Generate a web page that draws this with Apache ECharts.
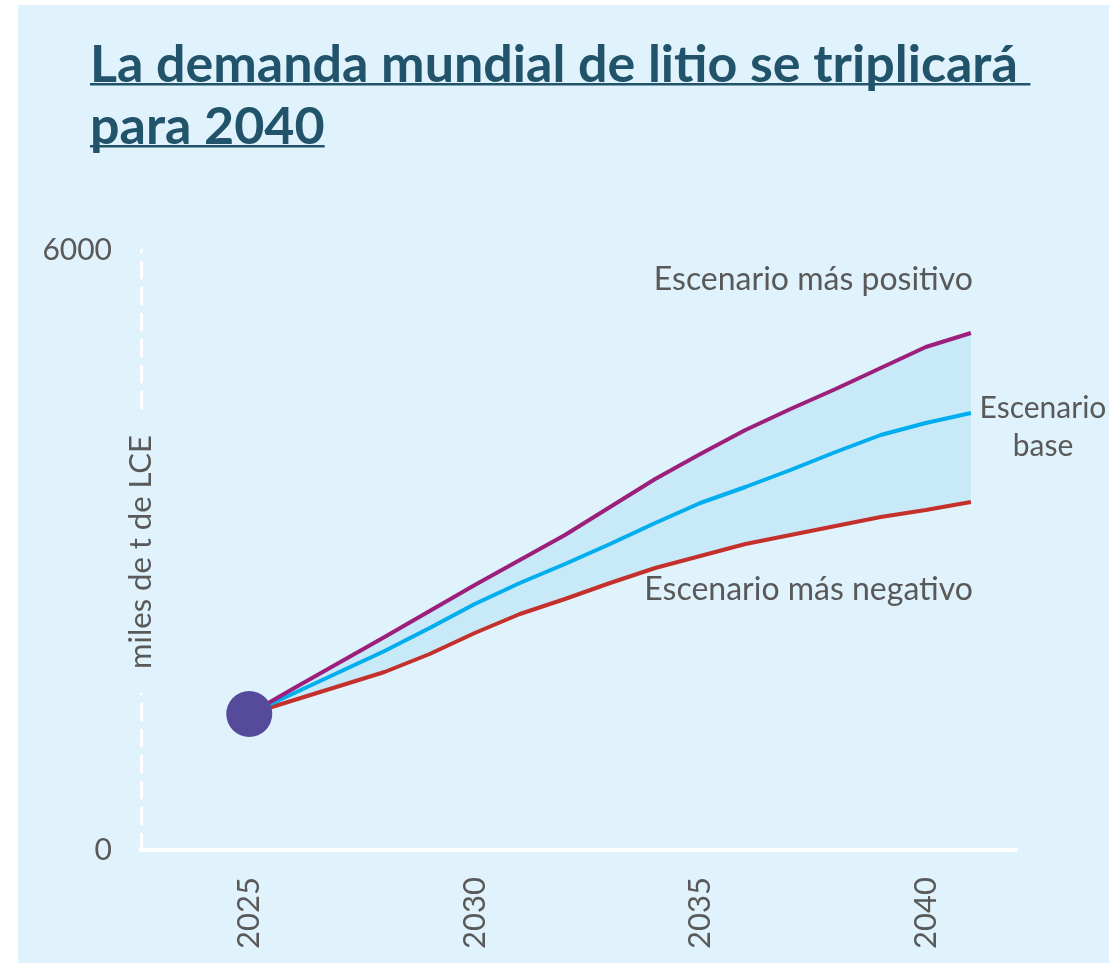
<!DOCTYPE html>
<html>
<head>
<meta charset="utf-8">
<script src="https://cdn.jsdelivr.net/npm/echarts@6/dist/echarts.min.js"></script>
<style>
  html, body { margin: 0; padding: 0; background: #ffffff; }
  #chart { width: 1109px; height: 963px; }
</style>
</head>
<body>
<div id="chart"></div>
<script>
// datos (miles de t de LCE)
const years = [2025, 2026, 2027, 2028, 2029, 2030, 2031, 2032, 2033, 2034, 2035, 2036, 2037, 2038, 2039, 2040, 2041];
const positivo = [1360, 1620, 1875, 2130, 2390, 2650, 2900, 3150, 3430, 3710, 3960, 4200, 4410, 4610, 4820, 5030, 5170];
const base = [1360, 1570, 1780, 1990, 2220, 2460, 2670, 2860, 3060, 3270, 3470, 3630, 3800, 3980, 4150, 4270, 4370];
const negativo = [1360, 1500, 1640, 1780, 1960, 2170, 2360, 2510, 2670, 2820, 2940, 3060, 3150, 3240, 3330, 3400, 3480];
const startPoint = [2025, 1360];
const yearTicks = [2025, 2030, 2035, 2040];

const titleLines = ['La demanda mundial de litio se triplicará ', 'para 2040'];
const yName = 'miles de t de LCE';
const titleColor = '#21536a';
const textGrey = '#595959';
const bg = '#e0f2fc';
const fontFam = 'Lato, "DejaVu Sans", sans-serif';

function textWidth(txt, font) {
  const ctx = document.createElement('canvas').getContext('2d');
  ctx.font = font;
  return ctx.measureText(txt).width;
}

const chart = echarts.init(document.getElementById('chart'), null, { renderer: 'canvas' });

const pairs = arr => arr.map((v, i) => [years[i], v]);

const titleSize = 52;
const titleGraphics = [];
titleLines.forEach((t, i) => {
  const baseY = 81 + i * 62;
  titleGraphics.push({
    type: 'text', z: 10,
    style: { x: 90, y: baseY - 42, text: t, fontSize: titleSize, fontWeight: 'bold', fontFamily: fontFam, fill: titleColor, verticalAlign: 'top' }
  });
  titleGraphics.push({
    type: 'rect', z: 10,
    shape: { x: 90, y: baseY + 2, width: textWidth(t, 'bold ' + titleSize + 'px Lato'), height: 2.5 },
    style: { fill: titleColor }
  });
});

// banda entre escenario negativo y positivo
function renderBand(params, api) {
  const upper = positivo.map((v, i) => api.coord([years[i], v]));
  const lower = negativo.map((v, i) => api.coord([years[i], v])).reverse();
  return {
    type: 'polygon',
    shape: { points: upper.concat(lower) },
    style: { fill: '#c8e9f8' },
    silent: true
  };
}

var option = {
  animation: false,
  graphic: [
    { type: 'rect', z: -10, shape: { x: 18, y: 5, width: 1091, height: 958 }, style: { fill: bg } }
  ].concat(titleGraphics).concat([
    { type: 'text', z: 10, x: 141, y: 552, rotation: Math.PI / 2,
      style: { x: 0, y: 0, text: yName, fill: textGrey, fontSize: 31, fontFamily: fontFam, align: 'center', verticalAlign: 'middle', backgroundColor: bg, padding: [0, 24] } },
    { type: 'text', z: 10, style: { x: 973, y: 280, text: 'Escenario más positivo', fill: textGrey, fontSize: 32, fontFamily: fontFam, align: 'right', verticalAlign: 'middle' } },
    { type: 'text', z: 10, style: { x: 1043, y: 427, text: 'Escenario\nbase', fill: textGrey, fontSize: 30, fontFamily: fontFam, lineHeight: 38, align: 'center', verticalAlign: 'middle' } },
    { type: 'text', z: 10, style: { x: 973, y: 590, text: 'Escenario más negativo', fill: textGrey, fontSize: 32, fontFamily: fontFam, align: 'right', verticalAlign: 'middle' } }
  ]),
  grid: { left: 141, right: 93, top: 250, bottom: 113 },
  xAxis: {
    type: 'value',
    min: 2022.6,
    max: 2042,
    splitLine: { show: false },
    axisTick: { show: false },
    axisLine: { show: true, lineStyle: { color: '#ffffff', width: 4 } },
    axisLabel: {
      customValues: yearTicks,
      rotate: 90,
      margin: 27,
      fontSize: 31,
      fontFamily: fontFam,
      color: textGrey,
      formatter: v => String(v)
    }
  },
  yAxis: {
    type: 'value',
    min: 0,
    max: 6000,
    interval: 6000,
    splitLine: { show: false },
    axisTick: { show: false },
    axisLine: { show: true, lineStyle: { color: '#ffffff', width: 3, type: [16, 10] } },
    axisLabel: { margin: 29, fontSize: 30, fontFamily: fontFam, color: textGrey, formatter: v => String(v) }
  },
  series: [
    { type: 'custom', renderItem: renderBand, data: [0], silent: true, z: 1 },
    { name: 'Escenario más negativo', type: 'line', data: pairs(negativo), symbol: 'none', lineStyle: { color: '#c4302b', width: 4 }, z: 3 },
    { name: 'Escenario base', type: 'line', data: pairs(base), symbol: 'none', lineStyle: { color: '#00aeef', width: 4 }, z: 3 },
    { name: 'Escenario más positivo', type: 'line', data: pairs(positivo), symbol: 'none', lineStyle: { color: '#9c1f7c', width: 4 }, z: 3 },
    { type: 'scatter', data: [startPoint], symbolSize: 46, itemStyle: { color: '#564b9b', opacity: 1 }, z: 5 }
  ]
};

chart.setOption(option);
</script>
</body>
</html>
